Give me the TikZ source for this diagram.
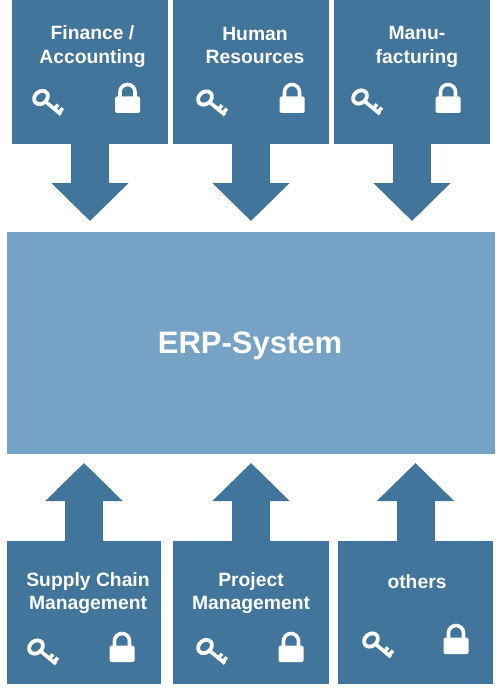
\documentclass[tikz,border=0pt]{standalone}
\usepackage{fontspec}
\setmainfont{Liberation Sans}
\usetikzlibrary{arrows.meta}
\definecolor{boxblue}{HTML}{41759B}
\definecolor{erpblue}{HTML}{75A2C5}
\tikzset{
  modbox/.style={fill=boxblue,draw=none,inner sep=0pt,outer sep=0pt,minimum width=156pt,minimum height=144pt},
  erpbox/.style={fill=erpblue,draw=none,inner sep=0pt,outer sep=0pt,minimum width=488pt,minimum height=222pt},
  modlabel/.style={text=white,align=center,inner sep=0pt,font=\bfseries\fontsize{19.3}{23.5}\selectfont},
  erplabel/.style={text=white,inner sep=0pt,font=\bfseries\fontsize{31}{36}\selectfont},
  bigarrow/.style={draw=boxblue,line width=38pt,-{Triangle[length=38pt,width=75pt,fill=boxblue]}},
  keyicon/.pic={
    \draw[white,line width=3.8pt] (0,0) circle[x radius=7.5pt,y radius=6pt,rotate=40];
    \draw[white,line width=3.6pt] (5,4.5) -- (20,17) (13.5,11.5) -- (17,7.2) (18,15.2) -- (21.8,10.6);
  },
  lockicon/.pic={
    \fill[white,rounded corners=1.5pt] (-12.5,-16.5) rectangle (12.5,0);
    \draw[white,line width=3.6pt] (-7.5,-15) -- (-7.5,-21) .. controls (-7.5,-25.14) and (-4.14,-28.5) .. (0,-28.5) .. controls (4.14,-28.5) and (7.5,-25.14) .. (7.5,-21) -- (7.5,-15);
  }
}
\begin{document}
\begin{tikzpicture}[x=1pt,y=-1pt]
\useasboundingbox (0,0) rectangle (500,698);
\node[erpbox] (erp) at (251,343) {};
\node[modbox] (fin) at (90,72) {};
\node[modbox] (hr) at (251,72) {};
\node[modbox] (man) at (412,72) {};
\node[modbox,minimum width=154pt,minimum height=143pt] (scm) at (84,612.5) {};
\node[modbox,minimum height=143pt] (pm) at (251,612.5) {};
\node[modbox,minimum width=155pt,minimum height=143pt] (oth) at (415.5,612.5) {};
\draw[bigarrow,shorten >=11pt] (fin.south) -- (fin.south |- erp.north);
\draw[bigarrow,shorten >=11pt] (hr.south) -- (hr.south |- erp.north);
\draw[bigarrow,shorten >=11pt] (man.south) -- (man.south |- erp.north);
\draw[bigarrow,shorten >=9pt] (scm.north) -- (scm.north |- erp.south);
\draw[bigarrow,shorten >=9pt] (pm.north) -- (pm.north |- erp.south);
\draw[bigarrow,shorten >=9pt] (oth.north) -- (oth.north |- erp.south);
\node[erplabel] (erpt) at (250,346) {ERP-System};
\node[modlabel] (fint) at (92.5,46.5) {Finance /\\Accounting};
\node[modlabel] (hrt) at (255,45.5) {Human\\Resources};
\node[modlabel] (mant) at (417,47) {Manu-\\facturing};
\node[modlabel] (scmt) at (88,593) {Supply Chain\\Management};
\node[modlabel] (pmt) at (251,593) {Project\\Management};
\node[modlabel] (otht) at (417,581.5) {others};
\pic at (41,97.5) {keyicon};
\pic at (205,98) {keyicon};
\pic at (360,97) {keyicon};
\pic at (36,647) {keyicon};
\pic at (205,646.5) {keyicon};
\pic at (371,640) {keyicon};
\pic at (127.5,113) {lockicon};
\pic at (292,113) {lockicon};
\pic at (448,113) {lockicon};
\pic at (122,662) {lockicon};
\pic at (291,662) {lockicon};
\pic at (456,654) {lockicon};
\end{tikzpicture}
\end{document}
